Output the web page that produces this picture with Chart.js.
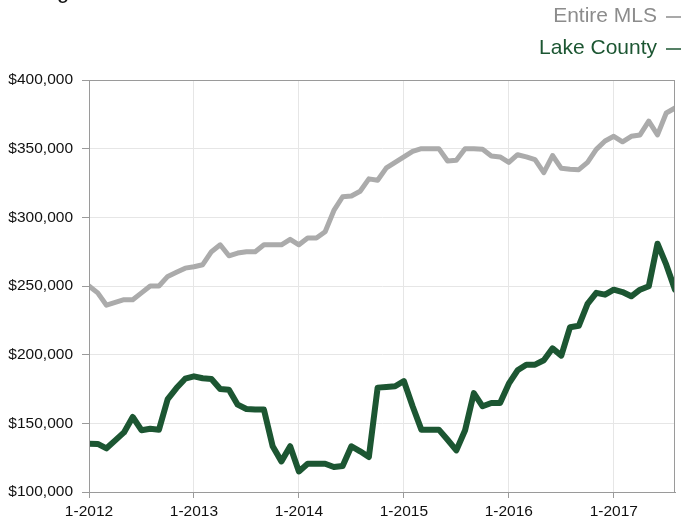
<!DOCTYPE html>
<html>
<head>
<meta charset="utf-8">
<script src="https://cdn.jsdelivr.net/npm/chart.js@4/dist/chart.umd.min.js"></script>
<style>
  html, body { margin: 0; padding: 0; background: #fff; }
  #wrap { width: 689px; height: 521px; position: relative; }
</style>
</head>
<body>
<div id="wrap"><canvas id="chart"></canvas></div>
<script>
// Monthly figures, 1-2012 through 8-2017
const yearLabels = ["1-2012", "1-2013", "1-2014", "1-2015", "1-2016", "1-2017"]

const entireMls = [
  250000, 245000, 236000, 238000, 240000, 240000, 245000, 250000, 250000, 257000, 260000, 263000,
  264000, 265500, 275000, 280000, 272000, 274000, 275000, 275000, 280000, 280000, 280000, 284000,
  280000, 285000, 285000, 289500, 305000, 315000, 315500, 319000, 328000, 327000, 336000, 340000,
  344000, 348000, 350000, 350000, 350000, 341000, 341500, 350000, 350000, 349500, 344700, 344000,
  340000, 345600, 344000, 342000, 332500, 345000, 335700, 335000, 334700, 340000, 349500, 355600,
  359000, 355000, 359000, 360000, 370000, 360000, 376000, 379600
]

const lakeCounty = [
  135200, 135000, 131800, 137600, 143400, 154600, 145000, 146000, 145400, 167700, 175700, 182500,
  184200, 182800, 182300, 175000, 174500, 163600, 160400, 160000, 160000, 133300, 122300, 133300,
  115000, 120600, 120600, 120600, 118200, 119000, 133300, 129600, 125500, 176000, 176500, 177000,
  180800, 162400, 145400, 145400, 145400, 138000, 130300, 145000, 172000, 162400, 164800, 164800,
  178900, 188600, 192700, 192700, 195900, 204600, 199300, 220000, 221000, 237000, 245000, 243700,
  247300, 245600, 242500, 247300, 249800, 280800, 265500, 247300
]

const titleText = "Average Sales Price"
const FONT = "'Liberation Sans', Arial, Helvetica, sans-serif"

// title (mostly cut off at the top) and the text-then-dash legend
const decorations = {
  id: 'decorations',
  afterDraw(chart) {
    const ctx = chart.ctx
    const area = chart.chartArea
    ctx.save()

    // frame round the plot
    ctx.strokeStyle = '#9a9a9a'
    ctx.lineWidth = 1
    ctx.strokeRect(area.left + 0.5, area.top + 0.5, area.right - area.left - 1, area.bottom - area.top)

    ctx.font = "22px " + FONT
    ctx.fillStyle = '#111'
    ctx.textAlign = 'left'
    ctx.textBaseline = 'alphabetic'
    ctx.fillText(titleText, 0, -2)

    ctx.font = "21px " + FONT
    ctx.textAlign = 'right'
    ctx.textBaseline = 'middle'
    const rows = [16, 48]
    chart.data.datasets.forEach((ds, i) => {
      const y = rows[i]
      ctx.fillStyle = ds.labelColor
      ctx.fillText(ds.label, 657, y)
      ctx.strokeStyle = ds.labelColor
      ctx.lineWidth = 1.5
      ctx.beginPath()
      ctx.moveTo(666, y + 1)
      ctx.lineTo(681, y + 1)
      ctx.stroke()
    })
    ctx.restore()
  }
}

const toPoints = arr => arr.map((v, i) => ({ x: i, y: v }))

new Chart(document.getElementById('chart'), {
  type: 'line',
  data: {
    datasets: [
      {
        label: 'Entire MLS',
        data: toPoints(entireMls),
        borderColor: '#ababab',
        labelColor: '#8c8c8c',
        borderWidth: 5,
        pointRadius: 0,
        tension: 0,
        borderJoinStyle: 'round',
        borderCapStyle: 'round'
      },
      {
        label: 'Lake County',
        data: toPoints(lakeCounty),
        borderColor: '#1c5632',
        labelColor: '#1c5632',
        borderWidth: 6,
        pointRadius: 0,
        tension: 0,
        borderJoinStyle: 'round',
        borderCapStyle: 'round'
      }
    ]
  },
  options: {
    responsive: true,
    maintainAspectRatio: false,
    animation: false,
    layout: { padding: { top: 80, right: 14, left: 0, bottom: 0 } },
    plugins: {
      legend: { display: false },
      tooltip: { enabled: false }
    },
    scales: {
      x: {
        type: 'linear',
        min: 0,
        max: entireMls.length - 1,
        afterFit(scale) { scale.height = 29 },
        border: { display: true, color: '#9a9a9a' },
        grid: { color: '#e6e6e6', tickColor: '#9a9a9a', tickLength: 6 },
        ticks: {
          stepSize: 12,
          includeBounds: false,
          autoSkip: false,
          maxRotation: 0,
          padding: 4,
          color: '#111',
          font: { family: FONT, size: 15.5 },
          callback: v => yearLabels[v / 12]
        }
      },
      y: {
        min: 100000,
        max: 400000,
        afterFit(scale) { scale.width = 89 },
        border: { display: true, color: '#9a9a9a' },
        grid: { color: '#e6e6e6', tickColor: '#9a9a9a', tickLength: 7 },
        ticks: {
          stepSize: 50000,
          padding: 9,
          color: '#111',
          font: { family: FONT, size: 15.5 },
          callback: v => '$' + v.toLocaleString('en-US')
        }
      }
    }
  },
  plugins: [decorations]
})
</script>
</body>
</html>
